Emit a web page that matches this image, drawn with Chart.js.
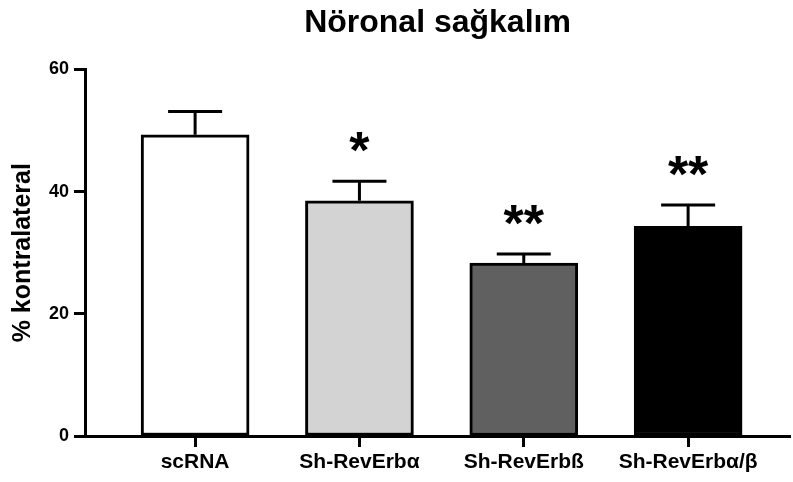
<!DOCTYPE html>
<html>
<head>
<meta charset="utf-8">
<script src="https://cdn.jsdelivr.net/npm/chart.js@4"></script>
<style>
  html, body { margin: 0; padding: 0; background: #fff; }
  #wrap { width: 793px; height: 482px; }
</style>
</head>
<body>
<div id="wrap"><canvas id="chart"></canvas></div>
<script>
// Data
const groups = ['scRNA', 'Sh-RevErbα', 'Sh-RevErbß', 'Sh-RevErbα/β'];
const means = [49.3, 38.5, 28.3, 34.3];
const sems = [3.8, 3.2, 1.5, 3.5];
const stars = ['', '*', '**', '**'];
const fills = ['#ffffff', '#d3d3d3', '#606060', '#000000'];
const yTicks = [0, 20, 40, 60];

const FONT = '"Liberation Sans", Arial, sans-serif';

// draw upward error bars + significance stars above each bar
const errorBars = {
    id: 'errorBars',
    afterDatasetsDraw(chart) {
        const ctx = chart.ctx;
        const yScale = chart.scales.y;
        const meta = chart.getDatasetMeta(0);
        ctx.save();
        ctx.strokeStyle = '#000';
        ctx.lineWidth = 3;
        meta.data.forEach((bar, i) => {
            const yTop = yScale.getPixelForValue(means[i] + sems[i]);
            ctx.beginPath();
            ctx.moveTo(bar.x, bar.y);
            ctx.lineTo(bar.x, yTop);
            ctx.moveTo(bar.x - 27, yTop);
            ctx.lineTo(bar.x + 27, yTop);
            ctx.stroke();
            if (stars[i]) {
                ctx.fillStyle = '#000';
                ctx.font = 'bold 52px ' + FONT;
                ctx.textAlign = 'center';
                ctx.textBaseline = 'alphabetic';
                ctx.fillText(stars[i], bar.x, yTop - 42 + 29);
            }
        });
        ctx.restore();
    }
};

new Chart(document.getElementById('chart'), {
    type: 'bar',
    data: {
        datasets: [{
            data: means.map((v, i) => ({ x: i, y: v })),
            backgroundColor: fills,
            borderColor: '#000',
            borderWidth: 3,
            borderSkipped: false,
            barThickness: 108
        }]
    },
    options: {
        responsive: true,
        maintainAspectRatio: false,
        animation: false,
        layout: { padding: { left: 0, right: 3, top: 0, bottom: 0 } },
        plugins: {
            legend: { display: false },
            tooltip: { enabled: false },
            title: {
                display: true,
                fullSize: false,
                text: 'Nöronal sağkalım',
                color: '#000',
                font: { family: FONT, size: 32, weight: 'bold' },
                padding: { top: 4, bottom: 27 }
            }
        },
        scales: {
            x: {
                type: 'linear',
                offset: false,
                min: -0.67,
                max: 3.62,
                afterBuildTicks: s => { s.ticks = groups.map((g, i) => ({ value: i })); },
                afterFit: s => { s.height = 46; },
                ticks: {
                    callback: v => groups[v],
                    color: '#000',
                    font: { family: FONT, size: 21, weight: 'bold' },
                    padding: 3,
                    maxRotation: 0,
                    autoSkip: false
                },
                grid: { offset: false, drawOnChartArea: false, drawTicks: true, tickLength: 11, tickWidth: 3, tickColor: '#000' },
                border: { display: true, width: 3, color: '#000' }
            },
            y: {
                min: 0,
                max: 60,
                afterBuildTicks: s => { s.ticks = yTicks.map(v => ({ value: v })); },
                afterFit: s => { s.width = 85; },
                ticks: {
                    color: '#000',
                    font: { family: FONT, size: 18, weight: 'bold' },
                    padding: 5
                },
                grid: { drawOnChartArea: false, drawTicks: true, tickLength: 11, tickWidth: 3, tickColor: '#000' },
                border: { display: true, width: 3, color: '#000' },
                title: {
                    display: true,
                    text: '% kontralateral',
                    color: '#000',
                    font: { family: FONT, size: 25, weight: 'bold' },
                    padding: { top: 8, bottom: 0 }
                }
            }
        }
    },
    plugins: [errorBars]
});
</script>
</body>
</html>
